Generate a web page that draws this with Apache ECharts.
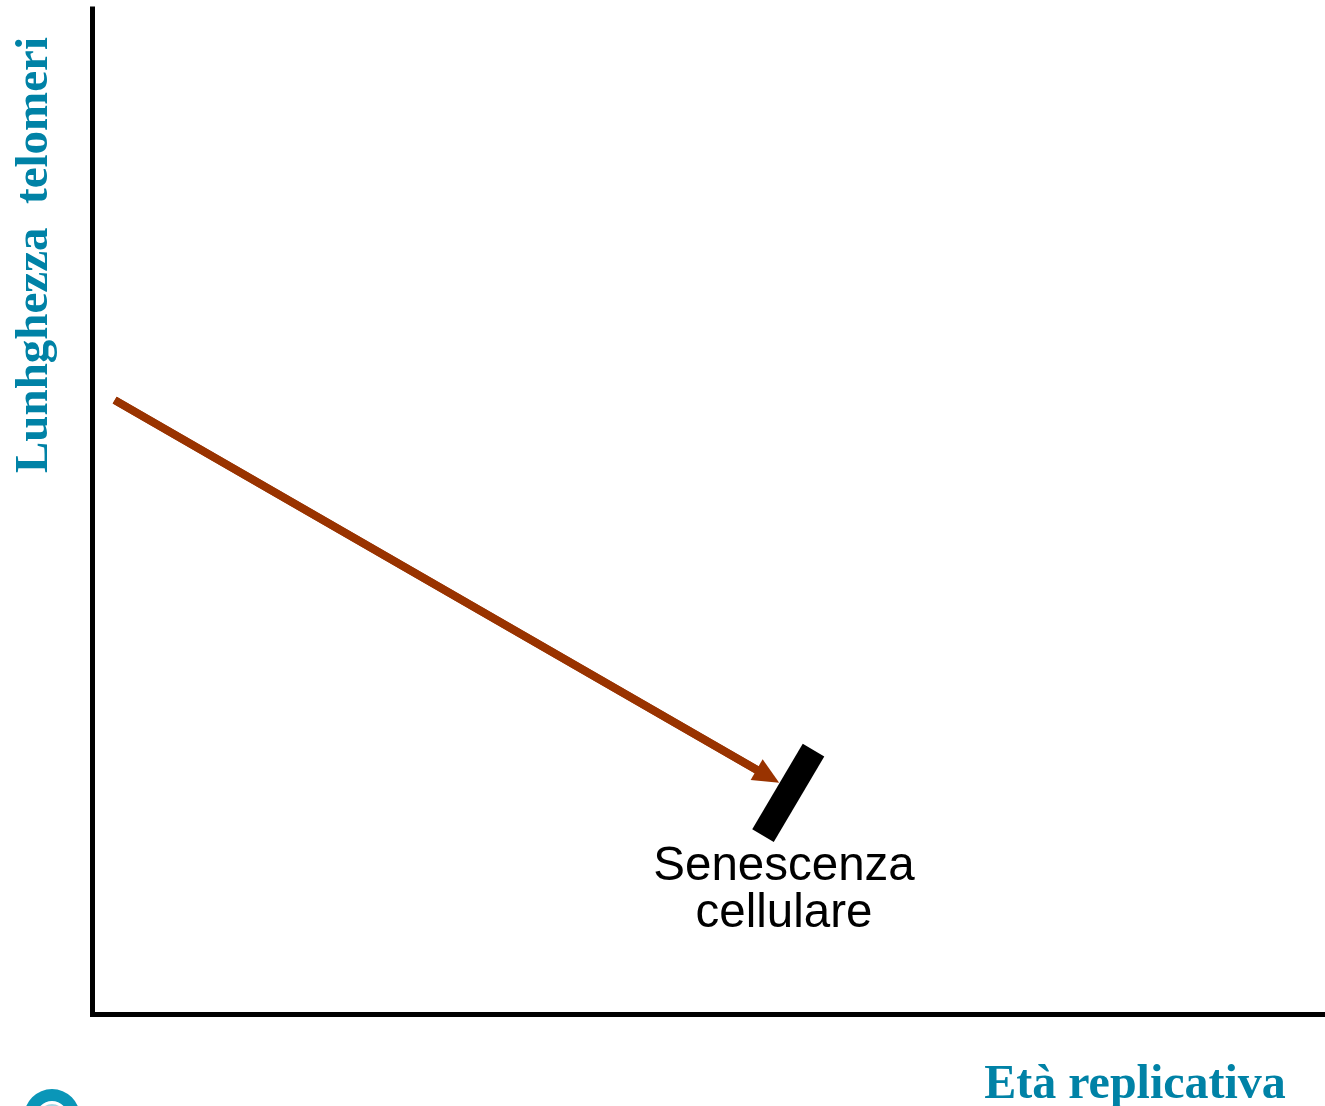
<!DOCTYPE html>
<html>
<head>
<meta charset="utf-8">
<title>Lunghezza telomeri</title>
<script src="https://cdn.jsdelivr.net/npm/echarts@6/dist/echarts.min.js"></script>
<style>
  html, body { margin: 0; padding: 0; background: #fff; }
  #main { width: 1325px; height: 1106px; }
</style>
</head>
<body>
<div id="main"></div>
<script>
// valori (scala 0-100 su entrambi gli assi)
const telomereAge = [1.8, 54.8];
const telomereLength = [61.1, 23.7];
const barrierAge = [58.5, 54.4];
const barrierLength = [26.3, 17.8];
const xAxisTitle = 'Età replicativa';
const yAxisTitle = 'Lunhghezza  telomeri';
const barrierLabel = 'Senescenza\ncellulare';

const teal = '#0082a6';
const brown = '#993300';

var myChart = echarts.init(document.getElementById('main'), null, { renderer: 'canvas' });

var axisStyle = { show: true, onZero: false, lineStyle: { color: '#000', width: 5, cap: 'square' } };

var option = {
  animation: false,
  backgroundColor: '#fff',
  grid: { left: 92.5, right: 0, top: 9, bottom: 91.5 },
  xAxis: {
    type: 'value', min: 0, max: 100,
    axisLine: axisStyle, axisTick: { show: false }, axisLabel: { show: false }, splitLine: { show: false }
  },
  yAxis: {
    type: 'value', min: 0, max: 100,
    axisLine: axisStyle, axisTick: { show: false }, axisLabel: { show: false }, splitLine: { show: false }
  },
  series: [
    {
      type: 'line',
      silent: true,
      symbol: 'none',
      lineStyle: { color: '#000', width: 25, cap: 'butt' },
      data: barrierAge.map((x, i) => [x, barrierLength[i]])
    },
    {
      type: 'line',
      silent: true,
      symbol: 'none',
      lineStyle: { color: brown, width: 8, cap: 'butt' },
      data: telomereAge.map((x, i) => [x, telomereLength[i]]),
      markLine: {
        silent: true,
        animation: false,
        symbol: ['none', 'triangle'],
        symbolSize: [24, 26],
        label: { show: false },
        lineStyle: { color: brown, width: 8, type: 'solid', cap: 'butt' },
        data: [[
          { coord: [telomereAge[0], telomereLength[0]] },
          { coord: [telomereAge[1], telomereLength[1]] }
        ]]
      }
    }
  ],
  graphic: [
    {
      type: 'text', x: 784, y: 843,
      style: {
        text: barrierLabel, fill: '#000', align: 'center',
        font: '47.5px "Liberation Sans", Arial, sans-serif', lineHeight: 47
      }
    },
    {
      type: 'text', x: 1135, y: 1086,
      style: {
        text: xAxisTitle, fill: teal, align: 'center', verticalAlign: 'middle',
        font: 'bold 48px "Liberation Serif", "Times New Roman", serif'
      }
    },
    {
      type: 'text', x: 35, y: 255, rotation: Math.PI / 2,
      style: {
        text: yAxisTitle, fill: teal, align: 'center', verticalAlign: 'middle',
        font: 'bold 47px "Liberation Serif", "Times New Roman", serif'
      }
    },
    {
      type: 'ring', x: 52, y: 1117,
      shape: { cx: 0, cy: 0, r: 28, r0: 16 },
      style: { fill: '#0a96b8' }
    },
    {
      type: 'circle', x: 52, y: 1117,
      shape: { cx: 0, cy: 0, r: 13 },
      style: { fill: '#a8d8e4' }
    }
  ]
};

myChart.setOption(option);
</script>
</body>
</html>
